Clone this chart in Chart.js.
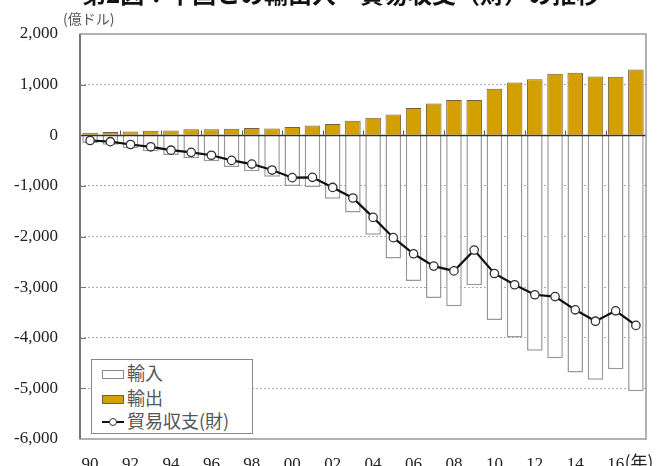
<!DOCTYPE html>
<html><head><meta charset="utf-8">
<script src="https://cdn.jsdelivr.net/npm/chart.js@4.4.1/dist/chart.umd.min.js"></script>
<style>
html,body{margin:0;padding:0;background:#fff;}
#wrap{position:relative;width:661px;height:466px;overflow:hidden;}
#c{position:absolute;left:0;top:0;}
#title{position:absolute;left:82px;top:-19px;font:700 24px "Noto Sans CJK JP";white-space:nowrap;color:#111;line-height:24px;}
#unit{position:absolute;left:63px;top:9px;font:14px "Noto Sans CJK JP";color:#555;line-height:18px;}
#legend{position:absolute;left:91px;top:359px;width:162px;height:75px;border:1px solid #888;background:#fff;box-sizing:border-box;font:18px "Noto Sans CJK JP";color:#555;}
.row{position:absolute;left:10px;height:22px;line-height:22px;white-space:nowrap;}
.sw{display:inline-block;width:22px;height:9px;vertical-align:middle;margin-right:3px;box-sizing:border-box;position:relative;top:-1px;}
</style></head>
<body><div id="wrap">
<canvas id="c" width="661" height="466"></canvas>
<div id="title">第2図：中国との輸出入・貿易収支（財）の推移</div>
<div id="unit">(億ドル)</div>
<div id="legend"></div>
</div>
<script>
const years = ['90','91','92','93','94','95','96','97','98','99','00','01','02','03','04','05','06','07','08','09','10','11','12','13','14','15','16','17'];
const imports = [-152,-190,-257,-315,-388,-455,-515,-626,-712,-818,-1000,-1023,-1252,-1524,-1967,-2435,-2878,-3214,-3378,-2964,-3650,-3994,-4256,-4404,-4685,-4832,-4624,-5055];
const exportsV = [48,63,74,88,93,118,120,129,142,131,162,192,221,284,344,412,537,629,697,695,919,1041,1105,1217,1237,1159,1156,1299];
const balance = [-104,-127,-183,-228,-295,-338,-395,-497,-569,-687,-838,-831,-1031,-1240,-1623,-2023,-2341,-2585,-2680,-2269,-2731,-2953,-3151,-3187,-3448,-3673,-3468,-3756];
const yTicks = [2000,1000,0,-1000,-2000,-3000,-4000,-5000,-6000];
const labels = ['輸入','輸出','貿易収支(財)'];

const GOLD = '#D4A000';

const framePlugin = {
  id: 'frame',
  beforeDatasetDraw(chart, args) {
    if (args.index !== 2) return;
    const {ctx, chartArea: a, scales: {y}} = chart;
    const y0 = Math.round(y.getPixelForValue(0)) + 0.5;
    ctx.save();
    ctx.strokeStyle = '#333'; ctx.lineWidth = 1.5;
    ctx.beginPath(); ctx.moveTo(a.left, y0); ctx.lineTo(a.right, y0); ctx.stroke();
    const w = (a.right - a.left) / years.length;
    ctx.lineWidth = 1; ctx.strokeStyle = '#555';
    for (let k = 2; k < years.length; k += 2) {
      const x = Math.round(a.left + k * w) + 0.5;
      ctx.beginPath(); ctx.moveTo(x, y0); ctx.lineTo(x, y0 - 5); ctx.stroke();
    }
    ctx.restore();
  },
  afterDraw(chart) {
    const {ctx, chartArea: a, scales: {x, y}} = chart;
    ctx.save();
    ctx.strokeStyle = '#999'; ctx.lineWidth = 1.5;
    ctx.strokeRect(a.left, a.top, a.right - a.left, a.bottom - a.top);
    ctx.strokeStyle = '#777'; ctx.lineWidth = 2;
    ctx.beginPath(); ctx.moveTo(a.left, a.top); ctx.lineTo(a.left, a.bottom); ctx.stroke();
    ctx.lineWidth = 1; ctx.strokeStyle = '#777';
    yTicks.forEach(v => {
      if (v === 2000 || v === -6000 || v === 0) return;
      const py = Math.round(y.getPixelForValue(v)) + 0.5;
      ctx.beginPath(); ctx.moveTo(a.left, py); ctx.lineTo(a.left + 6, py); ctx.stroke();
    });
    const px = x.getPixelForValue(26);
    ctx.font = '17px "Noto Sans CJK JP"';
    ctx.fillStyle = '#222'; ctx.textAlign = 'left'; ctx.textBaseline = 'top';
    ctx.fillText('(年)', px + 9, a.bottom + 14);
    ctx.restore();
  }
};

new Chart(document.getElementById('c'), {
  type: 'bar',
  data: {
    labels: years,
    datasets: [
      { label: labels[0], data: imports, backgroundColor: '#fff', borderColor: '#999', borderWidth: 1.5,
        barPercentage: 0.77, categoryPercentage: 1, stack: 'bars', order: 1 },
      { label: labels[1], data: exportsV, backgroundColor: GOLD, borderColor: '#6e6240', borderWidth: 1,
        barPercentage: 0.77, categoryPercentage: 1, stack: 'bars', order: 1 },
      { type: 'line', label: labels[2], data: balance, borderColor: '#111', borderWidth: 2.2,
        pointRadius: 4.2, pointBackgroundColor: '#fff', pointBorderColor: '#333', pointBorderWidth: 1.3,
        stack: 'bal', order: 0, tension: 0 }
    ]
  },
  options: {
    responsive: false, animation: false,
    layout: { padding: { top: 34, right: 15, left: 0, bottom: 0 } },
    plugins: { legend: { display: false }, tooltip: { enabled: false }, title: { display: false } },
    scales: {
      x: {
        stacked: true, offset: true,
        grid: { display: false, drawTicks: false }, border: { display: false },
        ticks: { autoSkip: false, maxRotation: 0, padding: 15, color: '#222',
          font: { family: 'Liberation Serif', size: 17 },
          callback: (v, i) => (i % 2 === 0 ? years[i] : '') },
        afterFit: s => { s.height = 27; }
      },
      y: {
        stacked: true, min: -6000, max: 2000,
        afterBuildTicks: s => { s.ticks = yTicks.map(v => ({ value: v })); },
        grid: { drawTicks: false, lineWidth: 1,
          color: c => ([1000,-1000,-2000,-3000,-4000,-5000].includes(c.tick && c.tick.value) ? '#aaa' : 'rgba(0,0,0,0)') },
        border: { display: false, dash: [2, 2] },
        ticks: { padding: 22, color: '#222', font: { family: 'Liberation Serif', size: 17 },
          callback: v => v.toLocaleString('en-US') },
        afterFit: s => { s.width = 80; s.paddingTop = 5; s.paddingBottom = 5; }
      }
    }
  },
  plugins: [framePlugin]
});

const lg = document.getElementById('legend');
const rows = [
  { top: 1, html: '<span class="sw" style="background:#fff;border:1px solid #888"></span>' },
  { top: 26, html: '<span class="sw" style="background:' + GOLD + ';border:1px solid #6e6240"></span>' },
  { top: 49, html: '<svg width="22" height="10" style="vertical-align:middle;margin-right:3px;position:relative;top:-1px"><line x1="0" y1="5" x2="22" y2="5" stroke="#111" stroke-width="2"/><circle cx="11" cy="5" r="3.5" fill="#fff" stroke="#333" stroke-width="1"/></svg>' }
];
rows.forEach((r, i) => {
  const d = document.createElement('div');
  d.className = 'row'; d.style.top = r.top + 'px';
  d.innerHTML = r.html + '<span>' + labels[i] + '</span>';
  lg.appendChild(d);
});
</script>
</body></html>
